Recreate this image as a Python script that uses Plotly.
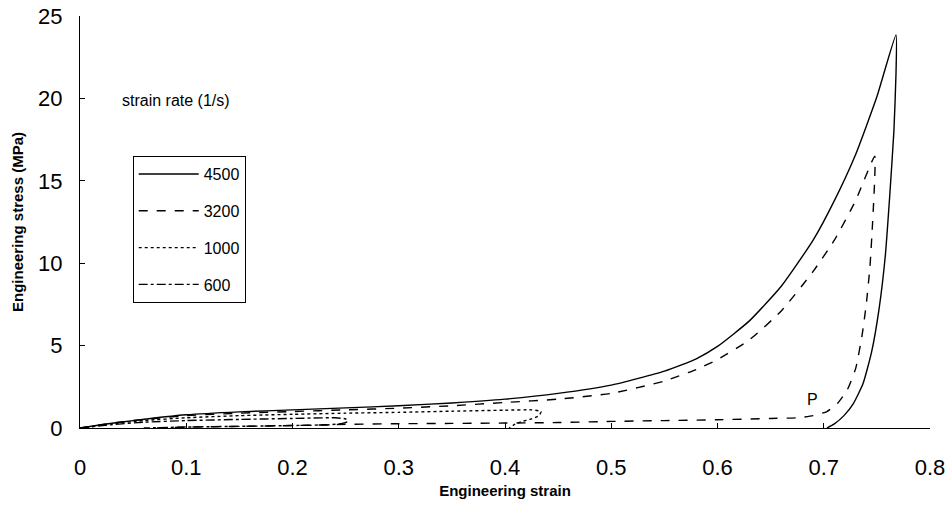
import plotly.graph_objects as go

# Engineering stress-strain curves (loading then unloading) at four strain rates
rate_labels = ["4500", "3200", "1000", "600"]

strain_4500 = [0, 0.02, 0.05, 0.10, 0.15, 0.20, 0.25, 0.30, 0.35, 0.40, 0.45, 0.50,
               0.55, 0.58, 0.60, 0.63, 0.66, 0.69, 0.71, 0.73, 0.75, 0.768,
               0.768, 0.766, 0.762, 0.758, 0.752, 0.745, 0.737, 0.728, 0.719, 0.710, 0.703]
stress_4500 = [0, 0.2, 0.45, 0.8, 0.98, 1.1, 1.22, 1.35, 1.52, 1.75, 2.1, 2.6,
               3.45, 4.2, 4.95, 6.5, 8.6, 11.4, 13.8, 16.6, 20.1, 23.85,
               21.5, 18.0, 14.0, 10.5, 7.2, 4.6, 2.7, 1.5, 0.75, 0.25, 0.0]

strain_3200 = [0, 0.02, 0.05, 0.10, 0.15, 0.20, 0.25, 0.30, 0.35, 0.40, 0.45, 0.50,
               0.55, 0.58, 0.60, 0.63, 0.66, 0.69, 0.71, 0.73, 0.748,
               0.748, 0.746, 0.7435, 0.740, 0.736, 0.730, 0.722, 0.713, 0.703, 0.690,
               0.675, 0.65, 0.60, 0.55, 0.50, 0.45, 0.40, 0.35, 0.30, 0.25, 0.20,
               0.15, 0.10, 0.07]
stress_3200 = [0, 0.2, 0.45, 0.75, 0.9, 1.0, 1.1, 1.2, 1.35, 1.55, 1.75, 2.1,
               2.85, 3.55, 4.15, 5.35, 7.1, 9.5, 11.4, 13.8, 16.5,
               15.2, 12.5, 9.8, 7.5, 5.6, 3.6, 2.3, 1.5, 1.0, 0.75,
               0.62, 0.58, 0.5, 0.45, 0.4, 0.33, 0.3, 0.28, 0.26, 0.22, 0.15,
               0.1, 0.05, 0.0]

strain_1000 = [0, 0.03, 0.06, 0.10, 0.15, 0.20, 0.25, 0.30, 0.35, 0.40, 0.425,
               0.434, 0.432, 0.425, 0.415, 0.408, 0.404]
stress_1000 = [0, 0.25, 0.45, 0.62, 0.75, 0.83, 0.9, 0.95, 1.02, 1.08, 1.1,
               1.0, 0.75, 0.55, 0.38, 0.18, 0.0]

strain_600 = [0, 0.03, 0.06, 0.10, 0.15, 0.20, 0.24, 0.25, 0.252, 0.247, 0.235,
              0.20, 0.15, 0.10, 0.06]
stress_600 = [0, 0.2, 0.35, 0.45, 0.52, 0.58, 0.62, 0.55, 0.4, 0.28, 0.2,
              0.15, 0.1, 0.06, 0.0]

x_ticks = [0, 0.1, 0.2, 0.3, 0.4, 0.5, 0.6, 0.7, 0.8]
x_tick_text = ["0", "0.1", "0.2", "0.3", "0.4", "0.5", "0.6", "0.7", "0.8"]
y_ticks = [0, 5, 10, 15, 20, 25]

series = [
    (strain_4500, stress_4500, "solid"),
    (strain_3200, stress_3200, "dash"),
    (strain_1000, stress_1000, "dot"),
    (strain_600, stress_600, "dashdot"),
]

FONT = "Liberation Sans, Arial, sans-serif"

fig = go.Figure()
for label, (xs, ys, dash) in zip(rate_labels, series):
    fig.add_trace(go.Scatter(
        x=xs, y=ys, mode="lines", name=label, legendgroup=label,
        line=dict(color="black", width=1.4, dash=dash, shape="spline", smoothing=0.5),
    ))

fig.add_annotation(x=0.689, y=1.7, text="P", showarrow=False,
                   font=dict(family=FONT, size=16, color="black"))
fig.add_annotation(xref="paper", yref="paper", x=0.047, y=0.795,
                   xanchor="left", yanchor="middle", text="strain rate (1/s)",
                   showarrow=False, font=dict(family=FONT, size=16, color="black"))

fig.update_layout(
    width=949, height=510,
    margin=dict(l=80, r=19, t=16, b=82),
    paper_bgcolor="white", plot_bgcolor="white",
    font=dict(family=FONT, color="black"),
    legend=dict(
        x=0.062, y=0.66, xanchor="left", yanchor="top",
        bordercolor="black", borderwidth=1, bgcolor="white",
        font=dict(family=FONT, size=16, color="black"),
        tracegroupgap=13, itemwidth=60,
    ),
    showlegend=True,
)

fig.update_xaxes(
    range=[0, 0.8], tickvals=x_ticks, ticktext=x_tick_text,
    showgrid=False, zeroline=False, showline=True, linecolor="black", linewidth=1,
    ticks="inside", ticklen=5, tickcolor="black",
    tickfont=dict(family=FONT, size=22, color="black"), ticklabelstandoff=20,
    title=dict(text="<b>Engineering strain</b>", standoff=6,
               font=dict(family=FONT, size=15, color="black")),
    automargin=False,
)
fig.update_yaxes(
    range=[0, 25], tickvals=y_ticks,
    showgrid=False, zeroline=False, showline=True, linecolor="black", linewidth=1,
    ticks="inside", ticklen=5, tickcolor="black",
    tickfont=dict(family=FONT, size=22, color="black"), ticklabelstandoff=12,
    title=dict(text="<b>Engineering stress (MPa)</b>", standoff=10,
               font=dict(family=FONT, size=15, color="black")),
    automargin=False,
)

fig.write_html("out.html")
